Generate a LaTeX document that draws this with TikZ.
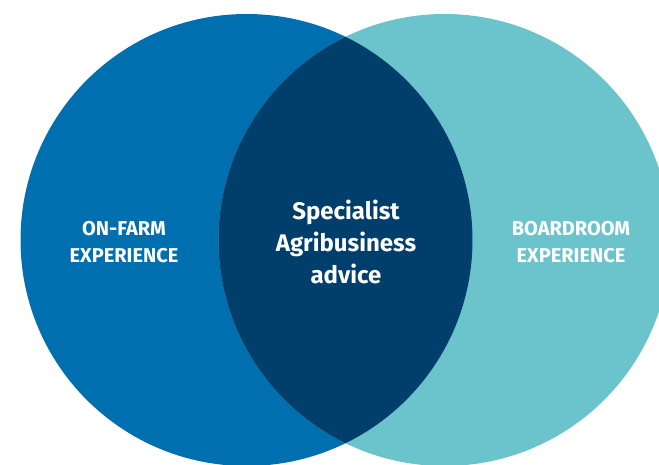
\documentclass[tikz,border=0pt]{standalone}
\usepackage{fontspec}
\setsansfont{Fira Sans}
\usetikzlibrary{positioning}
\definecolor{farmblue}{RGB}{0,111,176}
\definecolor{boardteal}{RGB}{107,195,203}
\definecolor{advicenavy}{RGB}{0,62,107}
\tikzset{
  sidelabel/.style={text=white,align=center,font=\sffamily\bfseries\fontsize{20}{27}\selectfont},
  midlabel/.style={text=white,align=center,font=\sffamily\bfseries\fontsize{24}{32}\selectfont}
}
\begin{document}
\begin{tikzpicture}[x=1pt,y=1pt]
\useasboundingbox (0,0) rectangle (659,464);

\coordinate (L) at (246.5,224);
\coordinate (R) at (444.5,224);

\fill [farmblue] (L) circle [radius=226];
\fill [boardteal] (R) circle [radius=226];
\begin{scope}
\clip (L) circle [radius=226];
\fill [advicenavy] (R) circle [radius=226];
\end{scope}

\node[sidelabel] (A) at (124,221.5) {ON-FARM\\EXPERIENCE};
\node[midlabel] (B) at (346,222) {Specialist\\Agribusiness\\advice};
\node[sidelabel] (C) at (571,221.5) {BOARDROOM\\EXPERIENCE};
\end{tikzpicture}
\end{document}
